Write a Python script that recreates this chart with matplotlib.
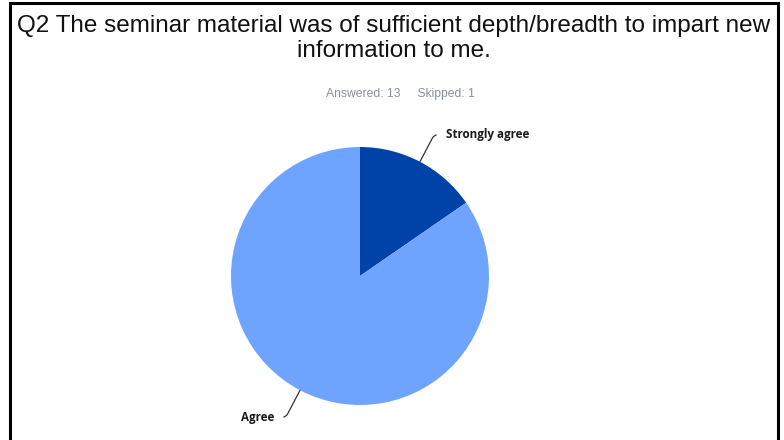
import numpy as np
import matplotlib
matplotlib.use("Agg")
import matplotlib.pyplot as plt

# Survey data
labels = ["Strongly agree", "Agree"]
counts = [2, 11]
colors = ["#0043A8", "#6FA4FE"]
answered = 13
skipped = 1
title = "Q2 The seminar material was of sufficient depth/breadth to impart new\ninformation to me."

W, H = 784, 440
fig = plt.figure(figsize=(W / 100, H / 100), dpi=100)
ax = fig.add_axes([0, 0, 1, 1])

# pie drawn in pixel space (y measured from bottom)
cx, cy, r = 360, H - 276, 129
wedges, _ = ax.pie(counts, colors=colors, startangle=90, counterclock=False,
                   center=(cx, cy), radius=r, wedgeprops=dict(linewidth=0))
ax.set_xlim(0, W)
ax.set_ylim(0, H)
ax.set_aspect("auto")
ax.axis("off")

# leader lines + labels: straight radial run, then a short hook into the label
for w, lab in zip(wedges, labels):
    mid = (w.theta1 + w.theta2) / 2
    ang = np.deg2rad(mid)
    px, py = cx + r * np.cos(ang), cy + r * np.sin(ang)
    sx = 1 if np.cos(ang) >= 0 else -1
    sy = 1 if np.sin(ang) >= 0 else -1
    tx, ty = px + sx * 26, py + sy * 27
    ax.annotate(lab, xy=(px, py), xytext=(tx, ty),
                ha="left" if sx > 0 else "right", va="center",
                fontsize=8.4, fontweight="bold", family="Open Sans", color="#1a1a1a",
                arrowprops=dict(arrowstyle="-", color="#333333", lw=0.9,
                                shrinkA=5, shrinkB=0,
                                connectionstyle="angle,angleA=0,angleB=%.1f,rad=4" % mid))

# title + stats
fig.text(393.5 / W, 1 - 15 / H, title, ha="center", va="top", fontsize=17.5,
         family="Liberation Sans", color="#111111", linespacing=1.2)
fig.text(400 / W, 1 - 94 / H, "Answered: %d     Skipped: %d" % (answered, skipped),
         ha="center", va="center", fontsize=8.7, family="Liberation Sans", color="#8A9099")

# frame around the slide (no bottom edge)
ax.plot([10, 10, 778, 778], [0, H - 3, H - 3, 0], color="black", lw=2.2,
        solid_joinstyle="miter", clip_on=False)

fig.savefig("out.png", dpi=100)
